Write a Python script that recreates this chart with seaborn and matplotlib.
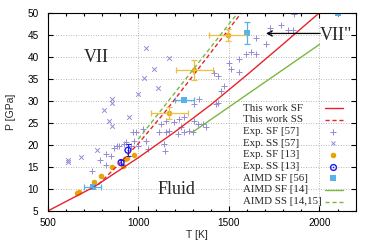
import matplotlib
matplotlib.use("Agg")
import matplotlib.pyplot as plt
import seaborn as sns

# ---- data ------------------------------------------------------------
# This work, solid-fluid (SF) and solid-solid (SS) boundaries
sf_T = [500, 757, 1000, 1200, 1400, 1600, 1800, 2000]
sf_P = [5.0, 10.5, 17.1, 22.9, 29.1, 35.9, 42.9, 50.0]
ss_T = [780, 875, 1000, 1150, 1300, 1450, 1575]
ss_P = [11.0, 14.9, 20.3, 27.6, 35.6, 43.6, 50.3]

# AIMD [14] SF and AIMD [14,15] SS
aimd_sf_T = [1300, 2000]
aimd_sf_P = [22.9, 42.8]
aimd_ss_T = [1000, 1550]
aimd_ss_P = [21.3, 50.0]

# Exp. SF [57] (plus) and Exp. SS [57] (cross)
exp57_sf_T = [742, 790, 820, 822, 849, 866, 885, 895, 923, 932, 960, 969, 978,
              988, 996, 1025, 1042, 1052, 1116, 1126, 1144, 1150, 1153, 1153,
              1171, 1199, 1217, 1226, 1236, 1254, 1254, 1282, 1300, 1305, 1310,
              1328, 1337, 1356, 1374, 1429, 1438, 1420, 1440, 1457, 1475, 1503,
              1510, 1555, 1555, 1595, 1622, 1650, 1650, 1705, 1725, 1733, 1790,
              1826, 1853, 1862]
exp57_sf_P = [14.0, 16.6, 15.4, 17.9, 17.5, 19.4, 19.7, 19.8, 20.2, 20.6, 19.8,
              22.9, 21.0, 23.0, 19.8, 23.6, 21.0, 19.1, 22.9, 24.8, 20.2, 18.6,
              22.9, 25.5, 23.2, 25.1, 22.5, 25.9, 24.0, 22.9, 26.3, 23.2, 22.9,
              29.3, 25.5, 24.8, 30.5, 24.8, 24.0, 29.3, 29.5, 36.4, 35.7, 32.2,
              33.3, 38.5, 37.3, 36.5, 39.4, 40.6, 41.1, 40.7, 44.2, 43.0, 46.5,
              45.3, 47.2, 46.0, 46.0, 49.8]
exp57_ss_T = [610, 614, 684, 770, 812, 838, 853, 855, 855, 950, 1000, 1030,
              1045, 1085, 1107, 1170]
exp57_ss_P = [16.2, 16.6, 17.2, 18.9, 28.0, 25.4, 24.4, 30.5, 29.5, 26.3, 31.6,
              35.3, 42.0, 37.3, 33.0, 39.8]

# Exp. SF [13] (orange circles), the last three with error bars
exp13_sf_T = [663, 673, 757, 792, 855, 915, 928, 938, 978, 1172, 1310, 1495]
exp13_sf_P = [9.0, 9.3, 11.7, 13.0, 15.0, 15.2, 16.8, 17.0, 17.8, 27.3, 37.0, 44.9]
exp13_err_T = [1172, 1310, 1495]
exp13_err_P = [27.3, 37.0, 44.9]
exp13_xerr = [102, 104, 105]
exp13_yerr = [1.4, 2.2, 1.4]

# Exp. SS [13] (blue open circles)
exp13_ss_T = [905, 943]
exp13_ss_P = [16.0, 18.8]
exp13_ss_yerr = [0.5, 1.3]

# AIMD SF [56] (light-blue squares)
aimd56_T = [748, 1254, 1600, 2100]
aimd56_P = [10.5, 30.2, 45.3, 50.0]
aimd56_xerr_T = [748, 1254]
aimd56_xerr_P = [10.5, 30.2]
aimd56_xerr = [48, 53]
aimd56_yerr_T = [1600]
aimd56_yerr_P = [45.3]
aimd56_yerr = [2.5]

legend_labels = ["This work SF", "This work SS", "Exp. SF [57]", "Exp. SS [57]",
                 "Exp. SF [13]", "Exp. SS [13]", "AIMD SF [56]", "AIMD SF [14]",
                 "AIMD SS [14,15]"]

RED = "#e8222a"
GREEN = "#7cb740"
PURPLE = "#948bd6"
ORANGE = "#e8a400"
ORANGE_ERR = "#edbf45"
BLUE = "#1a1af0"
LIGHTBLUE = "#58b2ea"
DASH = (0, (3, 2))

sns.set_theme(style="ticks")
plt.rcParams["font.family"] = ["Liberation Sans", "DejaVu Sans"]
SERIF = ["Liberation Serif", "DejaVu Serif"]

fig = plt.figure(figsize=(3.74, 2.42), dpi=100)
ax = fig.add_axes([0.1275, 0.128, 0.8235, 0.8194])

ax.grid(True, which="major", color="#a0a0a0", linestyle=(0, (1, 2)), linewidth=0.6)
ax.set_axisbelow(True)

# this work
sns.lineplot(x=sf_T, y=sf_P, ax=ax, color=RED, linewidth=1.0, sort=False,
             estimator=None, errorbar=None)
sns.lineplot(x=ss_T, y=ss_P, ax=ax, color=RED, linewidth=1.0, linestyle=DASH,
             sort=False, estimator=None, errorbar=None)

# experiments
sns.scatterplot(x=exp57_sf_T, y=exp57_sf_P, ax=ax, marker="+", color=PURPLE,
                s=15, linewidth=0.7)
sns.scatterplot(x=exp57_ss_T, y=exp57_ss_P, ax=ax, marker="x", color=PURPLE,
                s=11, linewidth=0.7)
ax.errorbar(exp13_err_T, exp13_err_P, xerr=exp13_xerr, yerr=exp13_yerr, fmt="none",
            ecolor=ORANGE_ERR, elinewidth=0.9, capsize=2, capthick=0.9)
sns.scatterplot(x=exp13_sf_T, y=exp13_sf_P, ax=ax, marker="o", color=ORANGE,
                s=16, linewidth=0)
ax.errorbar(exp13_ss_T, exp13_ss_P, yerr=exp13_ss_yerr, fmt="none", ecolor=BLUE,
            elinewidth=0.8, capsize=1.8, capthick=0.8)
sns.scatterplot(x=exp13_ss_T, y=exp13_ss_P, ax=ax, marker="o", facecolor="none",
                edgecolor=BLUE, s=18, linewidth=1.0)
sns.scatterplot(x=exp13_ss_T, y=exp13_ss_P, ax=ax, marker="o", color=BLUE,
                s=2, linewidth=0)

# AIMD
ax.errorbar(aimd56_xerr_T, aimd56_xerr_P, xerr=aimd56_xerr, fmt="none",
            ecolor=LIGHTBLUE, elinewidth=0.9, capsize=2, capthick=0.9)
ax.errorbar(aimd56_yerr_T, aimd56_yerr_P, yerr=aimd56_yerr, fmt="none",
            ecolor=LIGHTBLUE, elinewidth=0.9, capsize=2, capthick=0.9)
sns.scatterplot(x=aimd56_T, y=aimd56_P, ax=ax, marker="s", color=LIGHTBLUE,
                s=16, linewidth=0)
sns.lineplot(x=aimd_sf_T, y=aimd_sf_P, ax=ax, color=GREEN, linewidth=1.0,
             sort=False, estimator=None, errorbar=None)
sns.lineplot(x=aimd_ss_T, y=aimd_ss_P, ax=ax, color=GREEN, linewidth=1.0,
             linestyle=DASH, sort=False, estimator=None, errorbar=None)

# phase labels
ax.text(768, 38.8, "VII", family=SERIF, fontsize=13, ha="center", va="baseline")
ax.text(1208, 8.8, "Fluid", family=SERIF, fontsize=13, ha="center", va="baseline")
ax.text(2004, 43.8, 'VII"', family=SERIF, fontsize=13, ha="left", va="baseline")
ax.annotate("", xy=(1705, 45.3), xytext=(2004, 45.3),
            arrowprops=dict(arrowstyle="->", color="black", lw=0.9,
                            mutation_scale=9, shrinkA=0, shrinkB=0))

# key, gnuplot style: text on the left, sample on the right
row0, step = 0.518, 0.0588
for i, label in enumerate(legend_labels):
    yy = row0 - i * step
    ax.text(0.635, yy, label, transform=ax.transAxes, family=SERIF, fontsize=7.8,
            ha="left", va="center")
line_rows = {0: (RED, "-"), 1: (RED, DASH), 7: (GREEN, "-"), 8: (GREEN, DASH)}
for i, (c, ls) in line_rows.items():
    yy = row0 - i * step
    ax.plot([0.900, 0.958], [yy, yy], transform=ax.transAxes, color=c, ls=ls,
            lw=1.0, clip_on=False)
mk = 0.927
ax.plot(mk, row0 - 2 * step, "+", color=PURPLE, ms=4, mew=0.7, transform=ax.transAxes)
ax.plot(mk, row0 - 3 * step, "x", color=PURPLE, ms=3.4, mew=0.7, transform=ax.transAxes)
ax.plot(mk, row0 - 4 * step, "o", color=ORANGE, ms=4, mew=0, transform=ax.transAxes)
ax.plot(mk, row0 - 5 * step, "o", mfc="none", mec=BLUE, ms=4.2, mew=1.0,
        transform=ax.transAxes)
ax.plot(mk, row0 - 5 * step, "o", color=BLUE, ms=1.2, mew=0, transform=ax.transAxes)
ax.plot(mk, row0 - 6 * step, "s", color=LIGHTBLUE, ms=4, mew=0, transform=ax.transAxes)

ax.set_xlim(500, 2200)
ax.set_ylim(5, 50)
ax.set_xticks([500, 1000, 1500, 2000])
ax.set_xticks(range(500, 2201, 100), minor=True)
ax.set_yticks(range(5, 51, 5))
ax.tick_params(which="both", direction="in", top=True, right=True, color="black",
               width=0.8, labelsize=7.2, labelcolor="black")
ax.tick_params(which="major", length=3.5)
ax.tick_params(which="minor", length=1.8)
ax.tick_params(axis="x", pad=5)
ax.tick_params(axis="y", pad=6.5)
for sp in ax.spines.values():
    sp.set_visible(True)
    sp.set_color("black")
    sp.set_linewidth(0.8)

ax.set_xlabel("T [K]", fontsize=7.5)
ax.set_ylabel("P [GPa]", fontsize=7.5)
ax.xaxis.set_label_coords(0.484, -0.097)
ax.yaxis.set_label_coords(-0.1045, 0.5)

fig.savefig("out.png", dpi=100)
